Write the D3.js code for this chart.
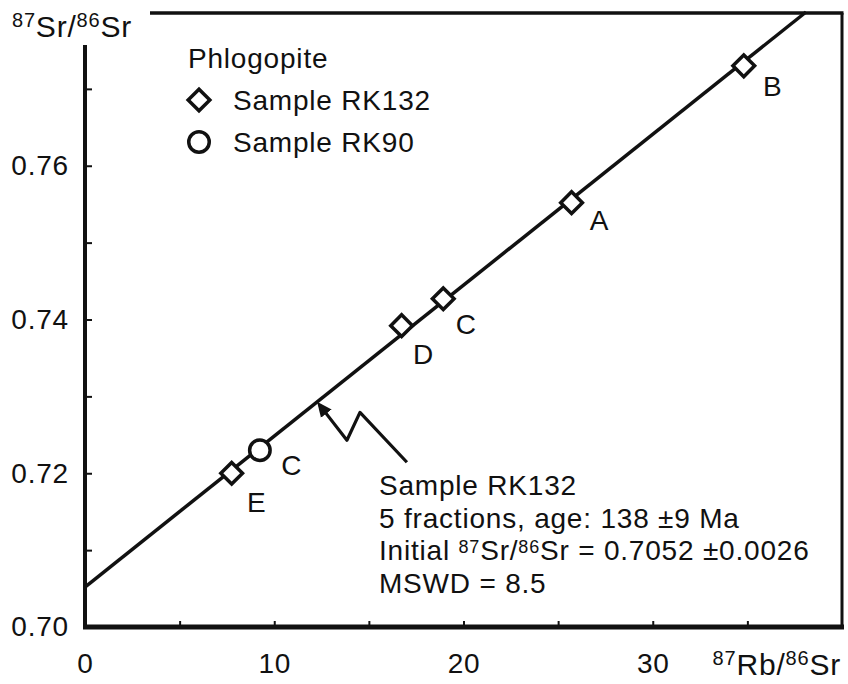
<!DOCTYPE html>
<html>
<head>
<meta charset="utf-8">
<script src="https://cdn.jsdelivr.net/npm/d3@7.9.0/dist/d3.min.js"></script>
<style>
  body { margin: 0; background: #fff; }
  svg text { font-family: "Liberation Sans", Arial, sans-serif; fill: #111; letter-spacing: 0.8px; }
</style>
</head>
<body>
<svg id="chart" width="848" height="684"></svg>
<script>
// ---- data ----
const xTicks = [0, 5, 10, 15, 20, 25, 30, 35];
const xTickLabels = [0, 10, 20, 30];
const yTicks = [0.70, 0.71, 0.72, 0.73, 0.74, 0.75, 0.76, 0.77];
const yTickLabels = [0.70, 0.72, 0.74, 0.76];

// phlogopite fractions (87Rb/86Sr, 87Sr/86Sr)
const fractionNames = ['E', 'C', 'D', 'C', 'A', 'B'];
const fractionSample = ['RK132', 'RK90', 'RK132', 'RK132', 'RK132', 'RK132'];
const rbSr = [7.75, 9.24, 16.73, 18.93, 25.71, 34.81];
const srSr = [0.7200, 0.7230, 0.7392, 0.7427, 0.7552, 0.7730];

// isochron end points
const isochronX = [0, 38.1];
const isochronY = [0.7052, 0.7800];

// arrow from the note to the line (data units)
const arrowX = [12.41, 13.84, 14.53, 17.01];
const arrowY = [0.72883, 0.72429, 0.72792, 0.72143];

const legendTitle = 'Phlogopite';
const legendItems = ['Sample RK132', 'Sample RK90'];
const legendSamples = ['RK132', 'RK90'];

// note lines; [text, superscript?] pieces
const noteLines = [
  [['Sample RK132', false]],
  [['5 fractions, age: 138 \u00b19 Ma', false]],
  [['Initial ', false], ['87', true], ['Sr/', false], ['86', true], ['Sr = 0.7052 \u00b10.0026', false]],
  [['MSWD = 8.5', false]]
];
const yTitle = [['87', true], ['Sr/', false], ['86', true], ['Sr', false]];
const xTitle = [['87', true], ['Rb/', false], ['86', true], ['Sr', false]];

// ---- layout ----
const FS = 28;          // main font size
const labelNudge = [[25, 29], [32, 15], [22, 28], [23, 25], [28, 17], [29, 20]];

const svg = d3.select('#chart');

const x = d3.scaleLinear().domain([0, 40]).range([85, 842]);
const y = d3.scaleLinear().domain([0.70, 0.78]).range([627, 12]);

// write text made of normal and superscript pieces
function richText(sel, pieces, size, supSize, raise) {
  pieces.forEach(([t, sup], i) => {
    const prevSup = i > 0 && pieces[i - 1][1];
    let dy = 0;
    if (sup && !prevSup) dy = -raise;
    if (!sup && prevSup) dy = raise;
    sel.append('tspan')
      .attr('dy', dy)
      .style('font-size', (sup ? supSize : size) + 'px')
      .text(t);
  });
  return sel;
}

// axes (ticks point inward)
const xAxis = d3.axisBottom(x)
  .tickValues(xTicks)
  .tickSizeInner(-6)
  .tickSizeOuter(0)
  .tickPadding(26)
  .tickFormat(d => xTickLabels.includes(d) ? d : '');

const yAxis = d3.axisLeft(y)
  .tickValues(yTicks)
  .tickSizeInner(-7)
  .tickSizeOuter(0)
  .tickPadding(16)
  .tickFormat(d => yTickLabels.some(v => Math.abs(v - d) < 1e-9) ? d3.format('.2f')(d) : '');

const gx = svg.append('g').attr('transform', `translate(0,${y(0.70)})`).call(xAxis);
const gy = svg.append('g').attr('transform', `translate(${x(0)},0)`).call(yAxis);

[gx, gy].forEach(g => {
  g.select('.domain').remove();
  g.selectAll('.tick line').attr('stroke', '#111').attr('stroke-width', 2);
  g.selectAll('.tick text')
    .attr('font-family', null)
    .style('font-size', FS + 'px');
});

// frame
const frame = svg.append('g').attr('stroke', '#111').attr('fill', 'none');
frame.append('line')
  .attr('x1', x(0) - 2).attr('x2', x(40) + 2)
  .attr('y1', y(0.70)).attr('y2', y(0.70))
  .attr('stroke-width', 5);
frame.append('line')
  .attr('x1', x(0)).attr('x2', x(0))
  .attr('y1', 45).attr('y2', y(0.70))
  .attr('stroke-width', 4);
frame.append('line')
  .attr('x1', 150).attr('x2', x(40) + 1.5)
  .attr('y1', 13).attr('y2', 13)
  .attr('stroke-width', 3.5);
frame.append('line')
  .attr('x1', x(40)).attr('x2', x(40))
  .attr('y1', 13).attr('y2', y(0.70))
  .attr('stroke-width', 3);

// axis titles
richText(svg.append('text').attr('x', 12).attr('y', 37), yTitle, 30, 20, 10);
richText(svg.append('text').attr('x', 841).attr('y', 675).attr('text-anchor', 'end'), xTitle, 30, 20, 10);

// isochron
const isochron = isochronX.map((d, i) => [d, isochronY[i]]);
svg.append('path')
  .datum(isochron)
  .attr('d', d3.line().x(d => x(d[0])).y(d => y(d[1])))
  .attr('stroke', '#111')
  .attr('stroke-width', 3.5)
  .attr('fill', 'none');

// arrow
svg.append('defs').append('marker')
  .attr('id', 'head')
  .attr('viewBox', '0 0 10 10')
  .attr('refX', 7).attr('refY', 5)
  .attr('markerUnits', 'userSpaceOnUse')
  .attr('markerWidth', 15).attr('markerHeight', 15)
  .attr('orient', 'auto-start-reverse')
  .append('path')
  .attr('d', 'M0,0.5 L10,5 L0,9.5 z')
  .attr('fill', '#111');

const arrow = arrowX.map((d, i) => [d, arrowY[i]]);
svg.append('path')
  .datum(arrow)
  .attr('d', d3.line().x(d => x(d[0])).y(d => y(d[1])))
  .attr('stroke', '#111')
  .attr('stroke-width', 3.2)
  .attr('stroke-linejoin', 'round')
  .attr('fill', 'none')
  .attr('marker-start', 'url(#head)');

// markers
const diamond = d3.symbol().type(d3.symbolSquare).size(235)();
const circle = d3.symbol().type(d3.symbolCircle).size(330)();
const shapeFor = s => (s === 'RK90' ? circle : diamond);
const rotFor = s => (s === 'RK90' ? 0 : 45);

const fractions = rbSr.map((d, i) => ({
  name: fractionNames[i], sample: fractionSample[i], rb: d, sr: srSr[i], nudge: labelNudge[i]
}));

svg.append('g')
  .selectAll('path')
  .data(fractions)
  .join('path')
  .attr('d', d => shapeFor(d.sample))
  .attr('transform', d => `translate(${x(d.rb)},${y(d.sr)}) rotate(${rotFor(d.sample)})`)
  .attr('fill', '#fff')
  .attr('stroke', '#111')
  .attr('stroke-width', 3.5);

svg.append('g')
  .selectAll('text')
  .data(fractions)
  .join('text')
  .attr('x', d => x(d.rb) + d.nudge[0])
  .attr('y', d => y(d.sr) + d.nudge[1])
  .attr('dy', '0.36em')
  .attr('text-anchor', 'middle')
  .style('font-size', FS + 'px')
  .text(d => d.name);

// legend
const legend = svg.append('g');
legend.append('text')
  .attr('x', 188).attr('y', 68)
  .style('font-size', FS + 'px')
  .text(legendTitle);

legendItems.forEach((label, i) => {
  const cy = 100 + i * 42;
  legend.append('path')
    .attr('d', shapeFor(legendSamples[i]))
    .attr('transform', `translate(199,${cy}) rotate(${rotFor(legendSamples[i])})`)
    .attr('fill', '#fff')
    .attr('stroke', '#111')
    .attr('stroke-width', 3.5);
  legend.append('text')
    .attr('x', 233).attr('y', cy + 10)
    .style('font-size', FS + 'px')
    .text(label);
});

// note
noteLines.forEach((pieces, i) => {
  richText(svg.append('text').attr('x', 379).attr('y', 495 + i * 32.7), pieces, FS, 18, 7);
});
</script>
</body>
</html>
